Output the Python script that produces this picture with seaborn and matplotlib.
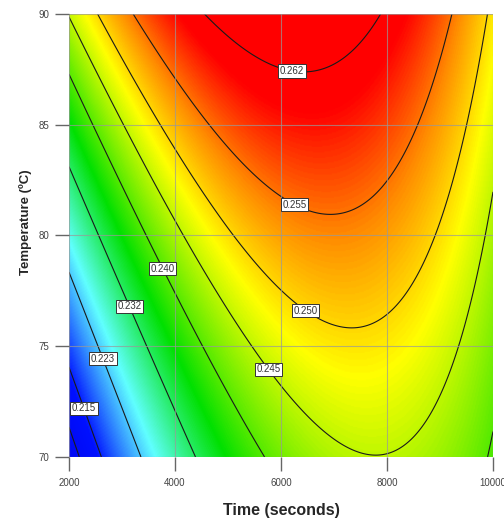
import numpy as np
import matplotlib
matplotlib.use('Agg')
import matplotlib.pyplot as plt
from matplotlib.colors import LinearSegmentedColormap
import seaborn as sns

# Points read off the reference where each contour crosses an edge,
# bottoms out, or carries its label: time (s), temperature (C), response
pt_time = [2000, 2000, 2000, 2000, 2000,
           2585, 3377, 4340, 5698, 9906,
           10000, 10000,
           2547, 9887, 3208, 9189, 4528, 7925,
           7810, 7358, 6962, 6585,
           2283, 2698, 3132, 3774, 5792, 6491, 6283, 6208]
pt_temp = [73.93, 78.44, 82.87, 87.25, 90.0,
           70.0, 70.0, 70.0, 70.0, 70.0,
           71.2, 81.7,
           90.0, 90.0, 90.0, 90.0, 90.0, 90.0,
           70.2, 75.7, 80.8, 87.2,
           72.2, 74.5, 76.8, 78.5, 74.0, 76.7, 81.5, 87.5]
pt_resp = [0.215, 0.223, 0.232, 0.240, 0.245,
           0.215, 0.223, 0.232, 0.240, 0.240,
           0.240, 0.245,
           0.250, 0.250, 0.255, 0.255, 0.262, 0.262,
           0.245, 0.250, 0.255, 0.262,
           0.215, 0.223, 0.232, 0.240, 0.245, 0.250, 0.255, 0.262]

# Contour levels and where their labels sit
levels = [0.210, 0.215, 0.223, 0.232, 0.240, 0.245, 0.250, 0.255, 0.262]
label_pos = [(2280, 72.2), (2700, 74.5), (3130, 76.8), (3770, 78.5),
             (5790, 74.0), (6490, 76.7), (6280, 81.5), (6210, 87.5)]
time_ticks = [2000, 4000, 6000, 8000, 10000]
temp_ticks = [70, 75, 80, 85, 90]

sns.set_style('white')
plt.rcParams['font.family'] = ['Liberation Sans', 'DejaVu Sans']

# quadratic response surface (coded units) fitted to the read points
def design(t, T):
    x = (np.asarray(t, float).ravel() - 6000) / 4000
    y = (np.asarray(T, float).ravel() - 80) / 10
    return np.column_stack([np.ones(x.size), x, y, x * y, x ** 2, y ** 2])
coef, *_ = np.linalg.lstsq(design(pt_time, pt_temp), np.array(pt_resp), rcond=None)

tg = np.linspace(2000, 10000, 400)
Tg = np.linspace(70, 90, 400)
tgg, Tgg = np.meshgrid(tg, Tg)
Z = (design(tgg, Tgg) @ coef).reshape(tgg.shape)

vmin, vmax = 0.200, 0.270
stops = [(0.200, '#0000e8'), (0.214, '#0010ff'), (0.2255, '#60ffff'),
         (0.236, '#00e000'), (0.248, '#ffff00'), (0.254, '#ff8c00'),
         (0.260, '#ff0000'), (0.270, '#ff0000')]
cmap = LinearSegmentedColormap.from_list(
    'de', [((v - vmin) / (vmax - vmin), c) for v, c in stops])

fig = plt.figure(figsize=(5.04, 5.27), dpi=100)
ax = fig.add_axes([69 / 504, 1 - 457 / 527, 424 / 504, 443 / 527])

ax.imshow(Z, extent=[2000, 10000, 70, 90], origin='lower', aspect='auto',
          cmap=cmap, vmin=vmin, vmax=vmax, interpolation='bilinear', zorder=0)

ax.set_xticks(time_ticks)
ax.set_yticks(temp_ticks)
ax.grid(True, color='#999999', lw=0.8, alpha=0.7, zorder=1)
ax.set_axisbelow(False)

cs = ax.contour(tgg, Tgg, Z, levels=levels, colors='#1a1a1a', linewidths=0.8, zorder=2)
txts = ax.clabel(cs, manual=label_pos, inline=False,
                 fmt='%.3f', fontsize=7, colors='#333333')
for t in txts:
    t.set_rotation(0)
    t.set_bbox(dict(facecolor='white', edgecolor='#333333', pad=1.2, linewidth=0.7))
    t.set_zorder(3)

ax.set_xlim(2000, 10000)
ax.set_ylim(70, 90)
for s in ax.spines.values():
    s.set_visible(False)
ax.tick_params(axis='both', length=10, width=1, color='#666666',
               labelsize=7, labelcolor='#444444', pad=4, direction='out')
ax.tick_params(axis='x', pad=5)
ax.xaxis.set_ticks_position('bottom')
ax.yaxis.set_ticks_position('left')

ax.set_xlabel('Time (seconds)', fontsize=11.5, fontweight='bold', labelpad=11)
ax.set_ylabel('Temperature (ºC)', fontsize=9.5, fontweight='bold')
ax.yaxis.set_label_coords(-0.087, 0.53)

fig.savefig('out.png', dpi=100)
